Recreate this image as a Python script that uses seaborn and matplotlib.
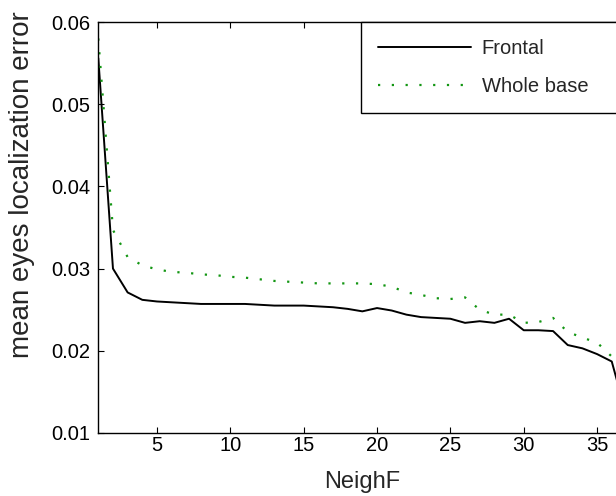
import matplotlib
matplotlib.use('Agg')
import matplotlib.pyplot as plt
import seaborn as sns

# values
neigh = list(range(1, 38))
frontal = [0.0556, 0.0300, 0.0271, 0.0262, 0.0260, 0.0259, 0.0258, 0.0257, 0.0257, 0.0257,
           0.0257, 0.0256, 0.0255, 0.0255, 0.0255, 0.0254, 0.0253, 0.0251, 0.0248, 0.0252,
           0.0249, 0.0244, 0.0241, 0.0240, 0.0239, 0.0234, 0.0236, 0.0234, 0.0239, 0.0225,
           0.0225, 0.0224, 0.0207, 0.0203, 0.0196, 0.0187, 0.0122]
whole_base = [0.0580, 0.0347, 0.0314, 0.0304, 0.0299, 0.0296, 0.0295, 0.0293, 0.0292, 0.0290,
              0.0289, 0.0287, 0.0285, 0.0284, 0.0283, 0.0282, 0.0282, 0.0282, 0.0282, 0.0281,
              0.0278, 0.0271, 0.0268, 0.0264, 0.0263, 0.0265, 0.0250, 0.0244, 0.0244, 0.0234,
              0.0235, 0.0240, 0.0223, 0.0216, 0.0210, 0.0193, 0.0170]
yticks = [0.01, 0.02, 0.03, 0.04, 0.05, 0.06]
xticks = [5, 10, 15, 20, 25, 30, 35]

sns.set_style('ticks')
plt.rcParams['font.family'] = ['Liberation Sans', 'DejaVu Sans']

fig = plt.figure(figsize=(6.16, 4.96), dpi=100)
ax = fig.add_axes([98.3 / 616, 1 - 433 / 496, 36 * 14.67 / 616, (433 - 22) / 496])

sns.lineplot(x=neigh, y=frontal, ax=ax, color='black', linewidth=1.4, label='Frontal')
sns.lineplot(x=neigh, y=whole_base, ax=ax, color='#139613', linewidth=1.6,
             linestyle=(0, (1, 5.2)), dash_capstyle='butt', label='Whole base')

ax.set_xlim(1, 37)
ax.set_ylim(0.01, 0.06)
ax.set_xticks(xticks)
ax.set_yticks(yticks)
ax.set_yticklabels([f'{v:.2f}' for v in yticks])
ax.tick_params(direction='in', length=4, width=0.8, labelsize=14.5, colors='black',
               top=True, right=True)
ax.tick_params(axis='x', pad=2.5)
ax.tick_params(axis='y', pad=6)
for s in ax.spines.values():
    s.set_color('black')
    s.set_linewidth(1.0)

ax.set_xlabel('NeighF', fontsize=17, labelpad=11)
ax.set_ylabel('mean eyes localization error', fontsize=20)
ax.yaxis.set_label_coords((35 - 98.3) / 528, (433 - 185) / 411)

# legend box runs past the right edge of the picture, as in the reference
leg = ax.legend(loc='upper left', bbox_to_anchor=((360.7 - 98.3) / 528, 0.0, 0.6, 1.0),
                mode='expand', borderaxespad=0, fancybox=False, fontsize=14.5,
                handlelength=4.6, handletextpad=0.55, borderpad=0.85, labelspacing=0.95)
leg.get_frame().set_edgecolor('black')
leg.get_frame().set_linewidth(1.0)
leg.get_frame().set_alpha(1)

fig.savefig('out.png', dpi=100)
